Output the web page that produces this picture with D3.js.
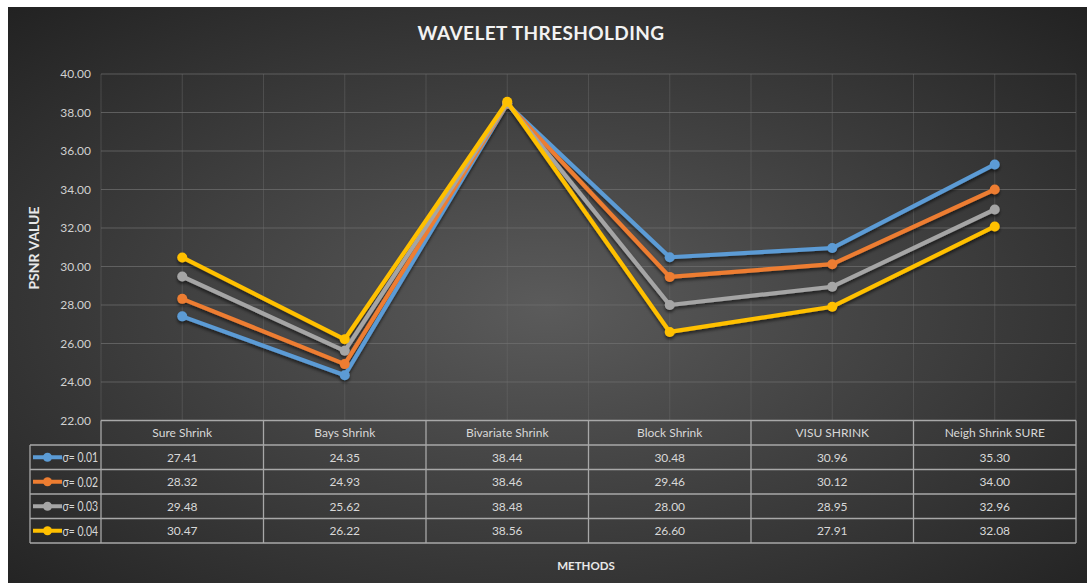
<!DOCTYPE html>
<html>
<head>
<meta charset="utf-8">
<script src="https://cdn.jsdelivr.net/npm/d3@7"></script>
<style>
  html, body { margin: 0; padding: 0; background: #ffffff; }
  svg { display: block; }
  text { font-family: Lato, "Open Sans", "DejaVu Sans", sans-serif; }
</style>
</head>
<body>
<svg id="chart" width="1087" height="583"></svg>
<script>
// Methods on the category axis
const methods = ["Sure Shrink", "Bays Shrink", "Bivariate Shrink", "Block Shrink", "VISU SHRINK", "Neigh Shrink SURE"];

// PSNR values per noise level
const sigma001 = [27.41, 24.35, 38.44, 30.48, 30.96, 35.30];
const sigma002 = [28.32, 24.93, 38.46, 29.46, 30.12, 34.00];
const sigma003 = [29.48, 25.62, 38.48, 28.00, 28.95, 32.96];
const sigma004 = [30.47, 26.22, 38.56, 26.60, 27.91, 32.08];

const seriesNames = ["σ= 0.01", "σ= 0.02", "σ= 0.03", "σ= 0.04"];
const seriesColors = ["#5b9bd5", "#ed7d31", "#a5a5a5", "#ffc000"];

// Value axis ticks
const yTicks = [22, 24, 26, 28, 30, 32, 34, 36, 38, 40];

const series = [sigma001, sigma002, sigma003, sigma004].map((vals, i) => ({
  name: seriesNames[i], color: seriesColors[i], values: vals
}));

const svg = d3.select("#chart");
const W = 1087, H = 583;
const plot = { left: 101, right: 1076, top: 74, bottom: 420.5 };
const legendLeft = 30;
const rowH = 24.5;

// Background: radial grey gradient on the chart area
const defs = svg.append("defs");
const grad = defs.append("radialGradient").attr("id", "bg")
  .attr("cx", "50%").attr("cy", "52%").attr("r", "72%");
grad.append("stop").attr("offset", "0%").attr("stop-color", "#5b5b5b");
grad.append("stop").attr("offset", "100%").attr("stop-color", "#222222");

const shadow = defs.append("filter").attr("id", "shadow")
  .attr("x", "-10%").attr("y", "-10%").attr("width", "120%").attr("height", "130%");
shadow.append("feDropShadow").attr("dx", 0).attr("dy", 2.5).attr("stdDeviation", 1.6)
  .attr("flood-color", "#000").attr("flood-opacity", 0.55);

svg.append("rect").attr("x", 8).attr("y", 7).attr("width", W - 8).attr("height", H - 7)
  .attr("fill", "url(#bg)");

// Scales
const x = d3.scaleBand().domain(methods).range([plot.left, plot.right]);
const y = d3.scaleLinear().domain([22, 40]).range([plot.bottom, plot.top]);

// Vertical gridlines at category edges and centres
const vLines = [];
methods.forEach(m => { vLines.push(x(m)); vLines.push(x(m) + x.bandwidth() / 2); });
vLines.push(plot.right);
svg.append("g").selectAll("line").data(vLines).join("line")
  .attr("x1", d => d).attr("x2", d => d)
  .attr("y1", plot.top).attr("y2", plot.bottom)
  .attr("stroke", "#6a6a6a").attr("stroke-opacity", 0.45).attr("stroke-width", 1);

// Horizontal gridlines
svg.append("g").selectAll("line").data(yTicks.filter(t => t > 22)).join("line")
  .attr("x1", plot.left).attr("x2", plot.right)
  .attr("y1", d => y(d)).attr("y2", d => y(d))
  .attr("stroke", "#707070").attr("stroke-opacity", 0.7).attr("stroke-width", 1);

// Value axis labels
const yAxis = svg.append("g").attr("transform", `translate(${plot.left},0)`)
  .call(d3.axisLeft(y).tickValues(yTicks).tickFormat(d3.format(".2f")).tickSize(0).tickPadding(10));
yAxis.select(".domain").remove();
yAxis.selectAll("text").attr("fill", "#d0d0d0").attr("font-size", 12)
  .style("font-family", "Lato, 'Open Sans', sans-serif");

// Title
svg.append("text").attr("x", 541).attr("y", 40).attr("text-anchor", "middle")
  .attr("fill", "#f2f2f2").attr("font-size", 19).attr("font-weight", 700)
  .attr("letter-spacing", 0.4).text("WAVELET THRESHOLDING");

// Axis titles
svg.append("text").attr("transform", "translate(39,248) rotate(-90)")
  .attr("text-anchor", "middle").attr("fill", "#e8e8e8")
  .attr("font-size", 14).attr("font-weight", 700).text("PSNR VALUE");
svg.append("text").attr("x", 586).attr("y", 570).attr("text-anchor", "middle")
  .attr("fill", "#e8e8e8").attr("font-size", 11.5).attr("font-weight", 700).text("METHODS");

// Lines and markers
const cx = m => x(m) + x.bandwidth() / 2;
const line = d3.line().x((d, i) => cx(methods[i])).y(d => y(d));
const lines = svg.append("g").attr("filter", "url(#shadow)");
series.forEach(s => {
  const g = lines.append("g");
  g.append("path").attr("d", line(s.values)).attr("fill", "none")
    .attr("stroke", s.color).attr("stroke-width", 4.2).attr("stroke-linejoin", "round");
  g.selectAll("circle").data(s.values).join("circle")
    .attr("cx", (d, i) => cx(methods[i])).attr("cy", d => y(d)).attr("r", 5)
    .attr("fill", s.color);
});

// Data table
const table = svg.append("g");
const border = "#a8a8a8";
const tTop = plot.bottom;
const tBottom = tTop + rowH * 5;

table.append("line").attr("x1", plot.left).attr("x2", plot.right)
  .attr("y1", tTop).attr("y2", tTop).attr("stroke", border).attr("stroke-width", 1.3);
for (let r = 1; r <= 5; r++) {
  table.append("line").attr("x1", legendLeft).attr("x2", plot.right)
    .attr("y1", tTop + r * rowH).attr("y2", tTop + r * rowH)
    .attr("stroke", border).attr("stroke-width", 1.3);
}
table.append("line").attr("x1", legendLeft).attr("x2", legendLeft)
  .attr("y1", tTop + rowH).attr("y2", tBottom).attr("stroke", border).attr("stroke-width", 1.3);
[...methods.map(m => x(m)), plot.right].forEach(v => {
  table.append("line").attr("x1", v).attr("x2", v).attr("y1", tTop).attr("y2", tBottom)
    .attr("stroke", border).attr("stroke-width", 1.3);
});

// Header row
table.selectAll("text.head").data(methods).join("text").attr("class", "head")
  .attr("x", m => cx(m)).attr("y", tTop + rowH / 2 + 4.5).attr("text-anchor", "middle")
  .attr("fill", "#d8d8d8").attr("font-size", 12).text(m => m);

// Value rows with legend keys
series.forEach((s, r) => {
  const rowY = tTop + (r + 1) * rowH + rowH / 2;
  table.append("g").selectAll("text").data(s.values).join("text")
    .attr("x", (d, i) => cx(methods[i])).attr("y", rowY + 4.5).attr("text-anchor", "middle")
    .attr("fill", "#d8d8d8").attr("font-size", 12).text(d => d3.format(".2f")(d));
  table.append("line").attr("x1", 33).attr("x2", 62).attr("y1", rowY).attr("y2", rowY)
    .attr("stroke", s.color).attr("stroke-width", 4);
  table.append("circle").attr("cx", 47.5).attr("cy", rowY).attr("r", 4.5).attr("fill", s.color);
  table.append("text").attr("x", 62.5).attr("y", rowY + 5).attr("fill", "#d8d8d8")
    .attr("font-size", 13.5).attr("textLength", 35.5).attr("lengthAdjust", "spacingAndGlyphs")
    .text(s.name);
});
</script>
</body>
</html>
